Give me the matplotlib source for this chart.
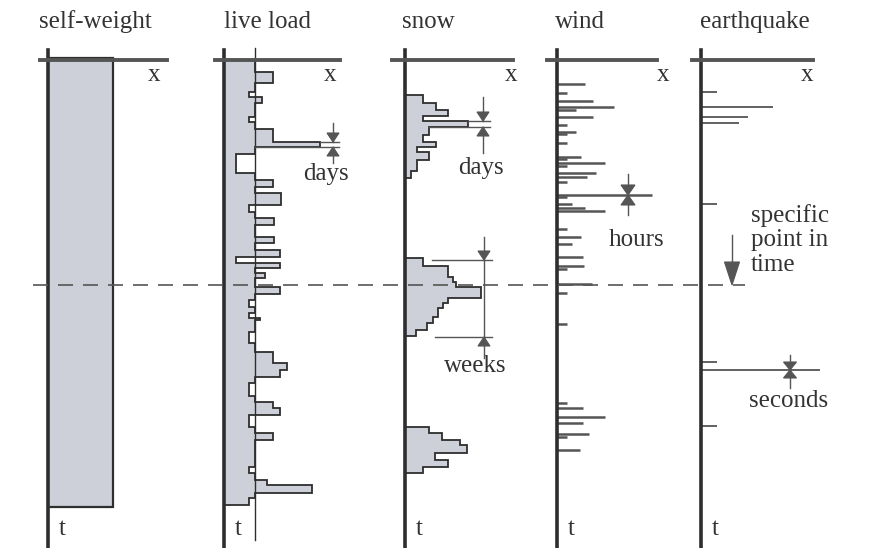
import matplotlib.pyplot as plt
from matplotlib.patches import Polygon

plt.rcParams['font.family'] = ['Liberation Serif', 'DejaVu Serif']

# panel titles and their baseline (t-axis) positions in pixels
titles = ['self-weight', 'live load', 'snow', 'wind', 'earthquake']
axis_x = [48, 224, 405, 557, 701]
title_x = [95, 268, 428, 580, 755]
frame_l = [40, 215, 392, 547, 692]
frame_r = [167, 340, 513, 657, 813]

# self-weight: constant over time
sw_t = [58, 507]
sw_x = [65]

# live load: step edges (time) and magnitudes
live_t = [60, 72, 83, 92, 97, 103, 117, 122, 129, 142, 147, 154, 173, 180, 187, 193, 205, 212,
          218, 225, 237, 243, 250, 257, 263, 268, 273, 278, 287, 294, 300, 307, 313, 318, 320,
          332, 343, 352, 363, 370, 377, 383, 396, 402, 408, 415, 427, 433, 440, 467, 473, 480,
          485, 493, 498, 505]
live_x = [31, 49, 31, 25, 38, 31, 25, 31, 49, 96, 31, 12, 31, 49, 31, 57, 25, 31, 50, 31, 50, 31,
          56, 12, 56, 31, 41, 31, 56, 31, 25, 31, 25, 36, 31, 25, 31, 49, 63, 56, 31, 25, 31, 49,
          56, 25, 31, 49, 31, 25, 31, 43, 88, 31, 25]
live_mean = 31

# snow: three snowfall periods (zero in between)
snow_t = [95, 103, 110, 116, 121, 127, 135, 142, 147, 152, 160, 171, 178,
          258, 266, 277, 282, 287, 298, 303, 308, 317, 323, 330, 336,
          427, 433, 440, 445, 453, 460, 467, 473]
snow_x = [18, 31, 43, 18, 63, 24, 18, 31, 12, 24, 12, 6, 0,
          18, 43, 48, 51, 76, 43, 38, 33, 28, 22, 11, 0,
          24, 37, 55, 62, 30, 43, 18]

# wind gusts
wind_t = [84, 93, 101, 107, 110, 117, 125, 132, 134, 143, 157, 159, 163, 166, 173, 177, 182, 195,
          197, 204, 208, 211, 229, 237, 244, 257, 266, 269, 284, 293, 324, 403, 408, 417, 423,
          434, 437, 450]
wind_x = [28, 10, 36, 57, 19, 36, 10, 19, 10, 10, 24, 10, 48, 10, 39, 30, 10, 95, 10, 15, 28, 48,
          10, 24, 15, 26, 27, 10, 35, 10, 10, 10, 26, 48, 26, 32, 10, 23]

# earthquakes
quake_t = [92, 107, 117, 123, 204, 362, 370, 426]
quake_x = [16, 72, 47, 38, 16, 16, 119, 16]

fill = '#cdd0d8'
ink = '#2e2e2e'
grey = '#555555'
txt = '#333333'
fs = 18

fig = plt.figure(figsize=(8.69, 5.48), dpi=100)
ax = fig.add_axes([0, 0, 1, 1])
ax.set_xlim(0, 869)
ax.set_ylim(548, 0)
ax.axis('off')


def tri(x, tip, h, w, down):
    base = tip - h if down else tip + h
    ax.add_patch(Polygon([(x - w, base), (x + w, base), (x, tip)], closed=True,
                         fc=grey, ec=grey, lw=0.8, zorder=6))


def dim(x, y1, y2, tail1, tail2, h=9, w=6):
    ax.plot([x, x], [y1 - tail1, y1], color=grey, lw=1, zorder=5)
    ax.plot([x, x], [y2, y2 + tail2], color=grey, lw=1, zorder=5)
    tri(x, y1, h, w, True)
    tri(x, y2, h, w, False)


def profile(x0, edges, vals, lw=1.3):
    xs = [x0 + v for v in vals]
    ax.fill_betweenx(edges, x0, xs + [xs[-1]], step='post', color=fill, lw=0, zorder=2)
    ax.stairs(xs, edges, baseline=x0, orientation='horizontal', fill=False,
              color=ink, lw=lw, zorder=3)


# frames of each panel
for ttl, x0, tx, fl, fr in zip(titles, axis_x, title_x, frame_l, frame_r):
    ax.plot([x0, x0], [50, 548], color=ink, lw=2.6, zorder=4)
    ax.plot([fl, fr], [60, 60], color=grey, lw=2.8, zorder=4)
    ax.text(tx, 22, ttl, ha='center', va='center', fontsize=fs, color=txt)
    ax.text(x0 + 106, 75, 'x', ha='center', va='center', fontsize=fs, color=txt)
    ax.text(x0 + 14, 529, 't', ha='center', va='center', fontsize=fs, color=txt)

# self-weight
profile(axis_x[0], sw_t, sw_x, lw=1.6)

# live load
x0 = axis_x[1]
profile(x0, live_t, live_x)
ax.plot([x0 + live_mean] * 2, [48, 540], color=ink, lw=1, zorder=3)
ax.plot([x0 + 96, x0 + 115], [142, 142], color=grey, lw=1, zorder=5)
ax.plot([x0 + 31, x0 + 115], [147, 147], color=grey, lw=1, zorder=5)
dim(333, 142, 147, 19, 16)
ax.text(326, 174, 'days', ha='center', va='center', fontsize=fs, color=txt)

# snow
x0 = axis_x[2]
profile(x0, snow_t, snow_x)
ax.plot([x0 + 63, x0 + 85], [121, 121], color=grey, lw=1, zorder=5)
ax.plot([x0 + 24, x0 + 85], [127, 127], color=grey, lw=1, zorder=5)
dim(483, 121, 127, 24, 26)
ax.text(481, 168, 'days', ha='center', va='center', fontsize=fs, color=txt)
ax.plot([x0 + 27, x0 + 87], [260, 260], color=grey, lw=1, zorder=5)
ax.plot([x0 + 30, x0 + 87], [337, 337], color=grey, lw=1, zorder=5)
ax.plot([484, 484], [260, 337], color=grey, lw=1, zorder=5)
dim(484, 260, 337, 23, 21)
ax.text(475, 366, 'weeks', ha='center', va='center', fontsize=fs, color=txt)

# wind
x0 = axis_x[3]
ax.hlines(wind_t, x0, [x0 + v for v in wind_x], color=grey, lw=1.8, zorder=3)
dim(628, 195, 195, 21, 20, h=10, w=7)
ax.text(637, 240, 'hours', ha='center', va='center', fontsize=fs, color=txt)

# earthquake
x0 = axis_x[4]
ax.hlines(quake_t, x0, [x0 + v for v in quake_x], color=grey, lw=1.3, zorder=3)
dim(790, 370, 370, 15, 18, h=8, w=6.5)
ax.text(789, 401, 'seconds', ha='center', va='center', fontsize=fs, color=txt)

# specific point in time
ax.plot([33, 745], [285, 285], color=grey, lw=1.2, dashes=(9, 6), zorder=5)
ax.plot([732, 732], [235, 262], color=grey, lw=1, zorder=5)
tri(732, 285, 23, 7.5, True)
ax.text(751, 240, 'specific\npoint in\ntime', ha='left', va='center', fontsize=fs,
        color=txt, linespacing=1.15)

fig.savefig('out.png', dpi=100)
